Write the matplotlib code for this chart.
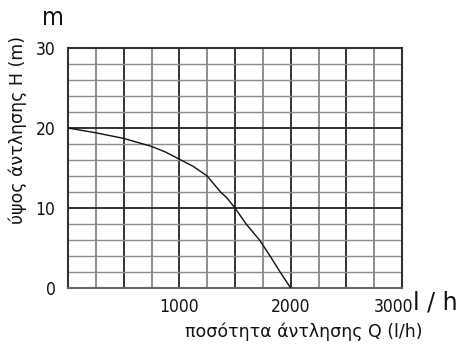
import matplotlib
matplotlib.use("Agg")
import matplotlib.pyplot as plt
import matplotlib.transforms as mtransforms
import numpy as np

# Pump characteristic: flow Q (l/h) against head H (m)
flow_q = [0, 250, 500, 750, 875, 1000, 1125, 1250, 1370, 1425, 1500,
          1600, 1720, 1815, 1905, 2000]
head_h = [20.0, 19.4, 18.7, 17.7, 17.0, 16.1, 15.2, 14.0, 12.0, 11.3, 10.0,
          8.0, 6.0, 4.0, 2.0, 0.0]

x_tick_values = [1000, 2000, 3000]
x_tick_labels = ["1000", "2000", "3000"]
y_tick_values = [0, 10, 20, 30]
y_tick_labels = ["0", "10", "20", "30"]

x_label = "ποσότητα άντλησης Q (l/h)"
y_label = "ύψος άντλησης H (m)"
x_unit = "l / h"
y_unit = "m"

family = ["DejaVu Sans"]

fig = plt.figure(figsize=(4.6, 3.46), dpi=100)
ax = fig.add_axes([68 / 460, 1 - 288 / 346, 334 / 460, 240 / 346])

ax.set_xlim(0, 3000)
ax.set_ylim(0, 30)

# grid: every 250 l/h and every 2 m, heavier lines on the major steps
for q in np.arange(250, 3000, 250):
    major = q % 500 == 0
    ax.axvline(q, color="#333333" if major else "#707070",
               lw=1.4 if major else 1.1, zorder=1)
for h in np.arange(2, 30, 2):
    major = h % 10 == 0
    ax.axhline(h, color="#333333" if major else "#8c8c8c",
               lw=1.4 if major else 1.0, zorder=1)

ax.plot(flow_q, head_h, color="#111111", lw=1.0, zorder=3)

for s in ax.spines.values():
    s.set_color("#333333")
    s.set_linewidth(1.5)
ax.spines["bottom"].set_color("#666666")

ax.set_xticks(x_tick_values)
ax.set_xticklabels(x_tick_labels, family=family, fontstretch="condensed",
                   fontsize=12.5)
ax.set_yticks(y_tick_values)
ax.set_yticklabels(y_tick_labels, family=family, fontstretch="condensed",
                   fontsize=12.5)
ax.tick_params(length=0, pad=7, colors="#111111")
ax.tick_params(axis="y", pad=9)

# nudge the last flow label left so it clears the unit
last = ax.get_xticklabels()[-1]
last.set_transform(last.get_transform() +
                   mtransforms.ScaledTranslation(-8 / 100, 0, fig.dpi_scale_trans))

fig.text(185 / 460, 1 - 332 / 346, x_label, family=family, fontsize=12.5,
         ha="left", va="center", color="#111111")
fig.text(18 / 460, 1 - 130 / 346, y_label, family=family, fontsize=12.5,
         rotation=90, ha="center", va="center", color="#111111")

fig.text(42 / 460, 1 - 18 / 346, y_unit, family=family, fontsize=18,
         fontstretch="condensed", ha="left", va="center", color="#111111")
fig.text(413 / 460, 1 - 302 / 346, x_unit, family=family, fontsize=17,
         ha="left", va="center", color="#111111")

fig.savefig("out.png", dpi=100, facecolor="white")
